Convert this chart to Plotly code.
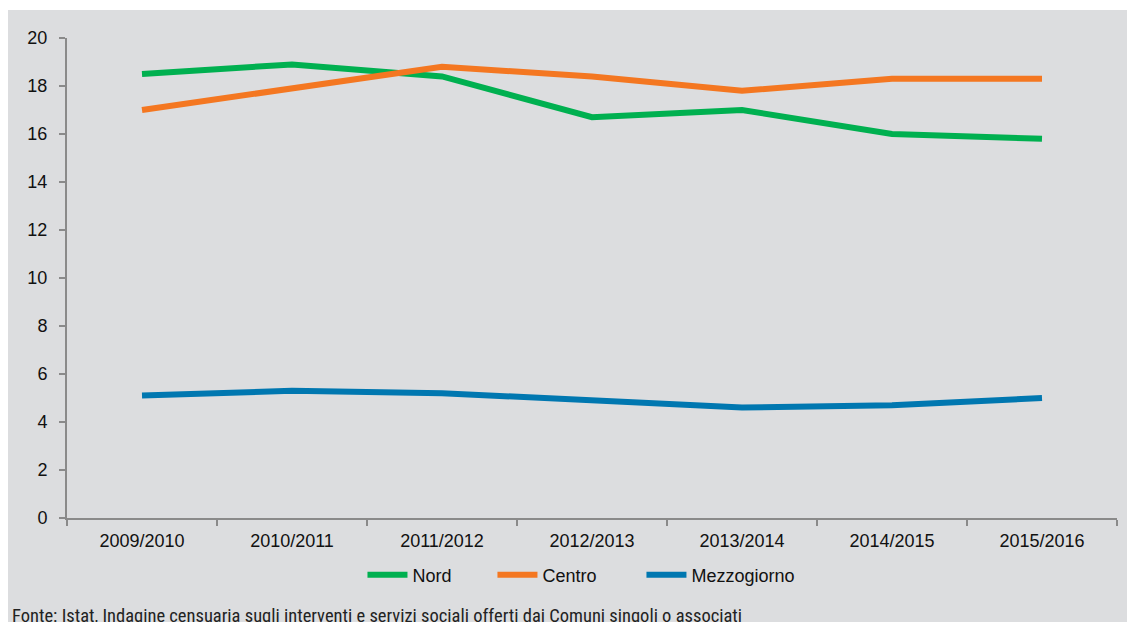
import plotly.graph_objects as go

# Anni scolastici
anni = ["2009/2010", "2010/2011", "2011/2012", "2012/2013", "2013/2014", "2014/2015", "2015/2016"]

# Valori per ripartizione
nord = [18.5, 18.9, 18.4, 16.7, 17.0, 16.0, 15.8]
centro = [17.0, 17.9, 18.8, 18.4, 17.8, 18.3, 18.3]
mezzogiorno = [5.1, 5.3, 5.2, 4.9, 4.6, 4.7, 5.0]

serie = [
    ("Nord", nord, "#00b050", "legend", 0.2814),
    ("Centro", centro, "#f47721", "legend2", 0.4052),
    ("Mezzogiorno", mezzogiorno, "#0077b0", "legend3", 0.5471),
]

testo = dict(family="Liberation Sans, Arial, sans-serif", size=18, color="#111111")

fig = go.Figure()
legende = {}
for nome, valori, colore, leg, xpos in serie:
    fig.add_trace(go.Scatter(
        x=anni, y=valori, name=nome, mode="lines",
        line=dict(color=colore, width=6), legend=leg,
    ))
    legende[leg] = dict(
        orientation="h", x=xpos, xanchor="left", y=-0.119, yanchor="middle",
        bgcolor="rgba(0,0,0,0)", font=testo, itemwidth=40,
    )

fig.update_layout(
    width=1127, height=622,
    margin=dict(l=67, r=10, t=38, b=104),
    paper_bgcolor="white",
    plot_bgcolor="rgba(0,0,0,0)",
    font=testo,
    showlegend=True,
    xaxis=dict(
        type="category", range=[-0.5, 6.5], showgrid=False, zeroline=False,
        showline=True, linecolor="#8a8a8a", linewidth=2,
        ticks="outside", ticklen=6, tickwidth=2, tickcolor="#8a8a8a",
        tickson="boundaries", ticklabelstandoff=5, tickfont=testo,
    ),
    yaxis=dict(
        range=[0, 20], tickvals=list(range(0, 21, 2)), showgrid=False, zeroline=False,
        showline=True, linecolor="#8a8a8a", linewidth=2,
        ticks="outside", ticklen=6, tickwidth=2, tickcolor="#8a8a8a",
        ticklabelstandoff=8, tickfont=testo,
    ),
    shapes=[dict(
        type="rect", xref="paper", yref="paper", layer="below",
        x0=-0.0562, x1=1.02, y0=-0.25, y1=1.0583,
        fillcolor="#dcdddf", line=dict(width=0),
    )],
    annotations=[dict(
        text="Fonte: Istat, Indagine censuaria sugli interventi e servizi sociali offerti dai Comuni singoli o associati",
        xref="paper", yref="paper", x=-0.0543, y=-0.2042, xanchor="left", yanchor="middle",
        showarrow=False,
        font=dict(family="Liberation Sans Narrow, Roboto Condensed, Roboto, sans-serif", size=18.5, color="#222222"),
    )],
    **legende,
)

fig.write_html("out.html")
